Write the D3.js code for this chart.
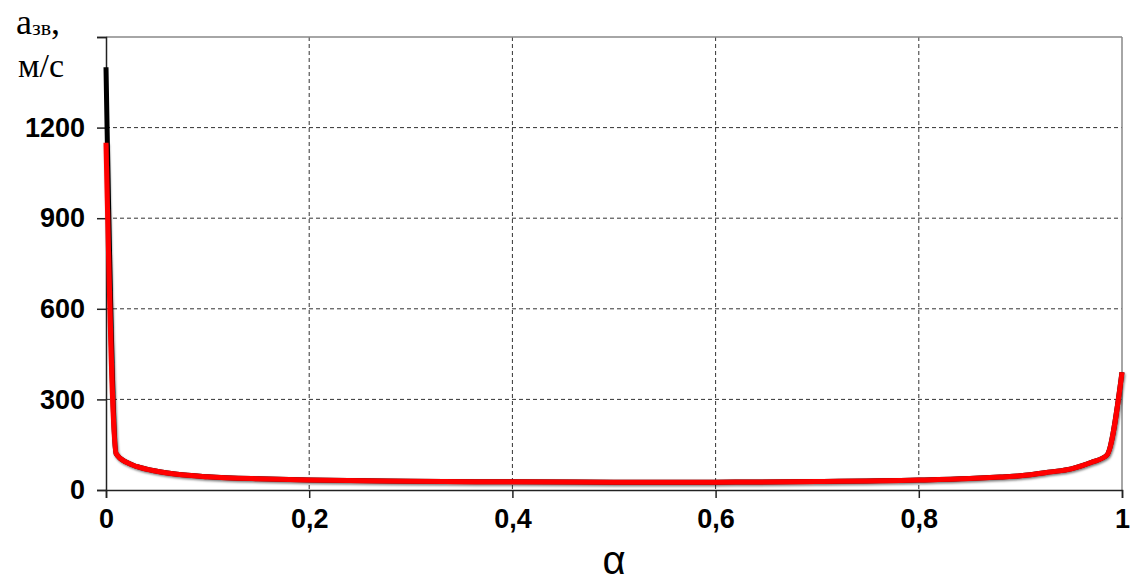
<!DOCTYPE html>
<html>
<head>
<meta charset="utf-8">
<script src="https://cdn.jsdelivr.net/npm/d3@7"></script>
<style>
  body { margin: 0; background: #fff; }
  svg { display: block; }
</style>
</head>
<body>
<svg width="1133" height="585"></svg>
<script>
// values
const alpha = [0, 0.01, 0.02, 0.03, 0.05, 0.07, 0.1, 0.15, 0.2, 0.3, 0.4, 0.5, 0.6, 0.7, 0.8, 0.85, 0.88, 0.9, 0.93, 0.95, 0.96, 0.97, 0.985, 1];
const soundRed = [1150, 120, 92, 78, 62, 52, 44, 37, 33, 29, 27, 26, 26, 28, 33, 38, 43, 47, 60, 70, 80, 92, 115, 390];
const soundBlack = [1400, 120, 92, 78, 62, 52, 44, 37, 33, 29, 27, 26, 26, 28, 33, 38, 43, 47, 60, 70, 80, 92, 115, 390];
const xTicks = [0, 0.2, 0.4, 0.6, 0.8, 1];
const yTicks = [0, 300, 600, 900, 1200, 1500];
const yLabels = ['0', '300', '600', '900', '1200', ''];

const svg = d3.select('svg');
const margin = {top: 37, right: 11, bottom: 95, left: 106};
const w = 1133 - margin.left - margin.right;
const h = 585 - margin.top - margin.bottom;

const x = d3.scaleLinear().domain([0, 1]).range([0, w]);
const y = d3.scaleLinear().domain([0, 1500]).range([h, 0]);

const defs = svg.append('defs');
const f = defs.append('filter').attr('id', 'shadow')
    .attr('x', '-10%').attr('y', '-10%').attr('width', '120%').attr('height', '120%');
f.append('feDropShadow').attr('dx', 1).attr('dy', 1.5).attr('stdDeviation', 1)
    .attr('flood-color', '#000').attr('flood-opacity', 0.55);

const g = svg.append('g').attr('transform', `translate(${margin.left},${margin.top})`);

// grid
g.selectAll('.hgrid').data(yTicks.slice(1, -1)).enter().append('line')
    .attr('x1', 0).attr('x2', w)
    .attr('y1', d => y(d)).attr('y2', d => y(d))
    .attr('stroke', '#333').attr('stroke-width', 1).attr('stroke-dasharray', '4,3');
g.selectAll('.vgrid').data(xTicks.slice(1, -1)).enter().append('line')
    .attr('y1', 0).attr('y2', h)
    .attr('x1', d => x(d)).attr('x2', d => x(d))
    .attr('stroke', '#333').attr('stroke-width', 1).attr('stroke-dasharray', '4,3');

// frame top & right
g.append('line').attr('x1', 0).attr('x2', w).attr('y1', 0).attr('y2', 0)
    .attr('stroke', '#888').attr('stroke-width', 1.5);
g.append('line').attr('x1', w).attr('x2', w).attr('y1', 0).attr('y2', h)
    .attr('stroke', '#888').attr('stroke-width', 1.5);

// axes
const xAxis = d3.axisBottom(x).tickValues(xTicks).tickSize(8).tickPadding(10)
    .tickFormat(d => d3.format('~g')(d).replace('.', ','));
const yAxis = d3.axisLeft(y).tickValues(yTicks).tickSize(9).tickPadding(12)
    .tickFormat((d, i) => yLabels[i]);

const gx = g.append('g').attr('transform', `translate(0,${h})`).call(xAxis);
const gy = g.append('g').call(yAxis);
[gx, gy].forEach(a => {
    a.select('.domain').attr('stroke', '#222').attr('stroke-width', 1.5);
    a.selectAll('.tick line').attr('stroke', '#222').attr('stroke-width', 1.5);
    a.selectAll('text').attr('font-family', 'Liberation Sans, Arial, sans-serif')
        .attr('font-weight', 'bold').attr('font-size', 27).attr('fill', '#000');
});
gx.selectAll('text').attr('dy', '0.75em');

// lines
const line = (vals) => d3.line()
    .x((d, i) => x(alpha[i]))
    .y(d => y(d))
    .curve(d3.curveMonotoneX)(vals);

g.append('path').attr('d', line(soundBlack))
    .attr('fill', 'none').attr('stroke', '#000').attr('stroke-width', 5);
g.append('path').attr('d', line(soundRed))
    .attr('fill', 'none').attr('stroke', '#ff0000').attr('stroke-width', 5)
    .attr('filter', 'url(#shadow)');

// axis titles
svg.append('text').attr('x', 614).attr('y', 574)
    .attr('text-anchor', 'middle')
    .attr('font-family', 'Liberation Sans, Arial, sans-serif').attr('font-size', 40)
    .text('α');

const yt = svg.append('text').attr('x', 16).attr('y', 34)
    .attr('font-family', 'Liberation Serif, Times New Roman, serif').attr('font-size', 36);
yt.append('tspan').text('a');
yt.append('tspan').attr('font-size', 22).attr('dy', 1).text('зв');
yt.append('tspan').attr('dy', -1).text(',');

svg.append('text').attr('x', 18).attr('y', 77)
    .attr('font-family', 'Liberation Serif, Times New Roman, serif').attr('font-size', 34)
    .text('м/с');
</script>
</body>
</html>
